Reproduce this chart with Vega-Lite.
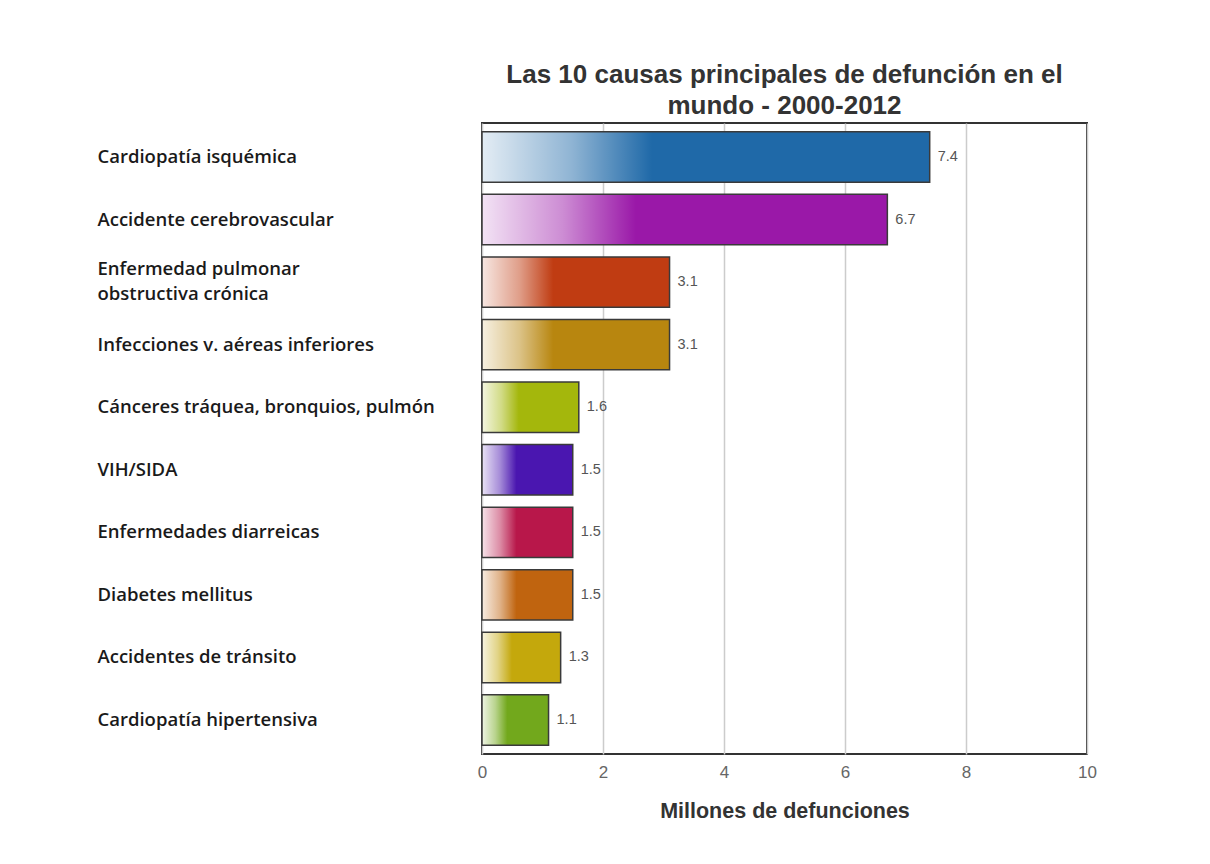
{
  "$schema": "https://vega.github.io/schema/vega-lite/v6.json",
  "width": 605,
  "height": 631,
  "autosize": {"type": "none"},
  "padding": {"left": 482, "top": 123, "right": 123, "bottom": 110},
  "background": "white",
  "title": {
    "text": ["Las 10 causas principales de defunción en el", "mundo - 2000-2012"],
    "font": "Liberation Sans",
    "fontSize": 26,
    "fontWeight": "bold",
    "color": "#333333",
    "lineHeight": 31,
    "anchor": "middle",
    "offset": 4
  },
  "data": {
    "values": [
      {"causa": "Cardiopatía isquémica", "valor": 7.4},
      {"causa": "Accidente cerebrovascular", "valor": 6.7},
      {"causa": "Enfermedad pulmonar obstructiva crónica", "valor": 3.1},
      {"causa": "Infecciones v. aéreas inferiores", "valor": 3.1},
      {"causa": "Cánceres tráquea, bronquios, pulmón", "valor": 1.6},
      {"causa": "VIH/SIDA", "valor": 1.5},
      {"causa": "Enfermedades diarreicas", "valor": 1.5},
      {"causa": "Diabetes mellitus", "valor": 1.5},
      {"causa": "Accidentes de tránsito", "valor": 1.3},
      {"causa": "Cardiopatía hipertensiva", "valor": 1.1}
    ]
  },
  "encoding": {
    "y": {
      "field": "causa",
      "type": "nominal",
      "sort": null,
      "scale": {"paddingInner": 0.195, "paddingOuter": 0.14},
      "axis": {
        "title": null,
        "ticks": false,
        "tickSize": 0,
        "domain": false,
        "labelAlign": "left",
        "labelPadding": 385,
        "labelLimit": 420,
        "labelFont": "Open Sans",
        "labelFontWeight": 600,
        "labelFontSize": 18.5,
        "labelColor": "#1a1a1a",
        "labelLineHeight": 25,
        "labelOffset": {"condition": {"test": "datum.value == 'Enfermedad pulmonar obstructiva crónica'", "value": -13}, "value": 0},
        "labelExpr": "datum.label == 'Enfermedad pulmonar obstructiva crónica' ? ['Enfermedad pulmonar', 'obstructiva crónica'] : datum.label"
      }
    },
    "x": {
      "field": "valor",
      "type": "quantitative",
      "scale": {"domain": [0, 10], "nice": false},
      "axis": {
        "values": [0, 2, 4, 6, 8, 10],
        "title": "Millones de defunciones",
        "titleFont": "Liberation Sans",
        "titleFontSize": 21.5,
        "titleFontWeight": "bold",
        "titleColor": "#333333",
        "titlePadding": 20,
        "ticks": false,
        "tickSize": 0,
        "domain": false,
        "labelFlush": false,
        "labelPadding": 10,
        "labelFont": "Liberation Sans",
        "labelFontSize": 17,
        "labelColor": "#666666",
        "grid": true,
        "gridColor": "#cccccc",
        "gridWidth": 1.5
      }
    }
  },
  "layer": [
    {
      "mark": {"type": "bar", "strokeWidth": 0},
      "encoding": {
        "color": {
          "field": "causa",
          "type": "nominal",
          "legend": null,
          "scale": {
            "domain": ["Cardiopatía isquémica", "Accidente cerebrovascular", "Enfermedad pulmonar obstructiva crónica", "Infecciones v. aéreas inferiores", "Cánceres tráquea, bronquios, pulmón", "VIH/SIDA", "Enfermedades diarreicas", "Diabetes mellitus", "Accidentes de tránsito", "Cardiopatía hipertensiva"],
            "range": ["#1f69a8", "#9a18a8", "#c03c12", "#b8860f", "#a4b70c", "#4a16b0", "#b8174a", "#c0640f", "#c4a80c", "#72a81c"]
          }
        }
      }
    },
    {
      "mark": {
        "type": "bar",
        "stroke": "#3a3a3a",
        "strokeWidth": 1.5,
        "fill": {
          "gradient": "linear",
          "x1": 0, "y1": 0, "x2": 1, "y2": 0,
          "stops": [
            {"offset": 0, "color": "rgba(255,255,255,0.88)"},
            {"offset": 0.2, "color": "rgba(255,255,255,0.5)"},
            {"offset": 0.38, "color": "rgba(255,255,255,0)"},
            {"offset": 1, "color": "rgba(255,255,255,0)"}
          ]
        }
      },
      "encoding": {}
    },
    {
      "mark": {"type": "text", "align": "left", "dx": 8, "font": "Liberation Sans", "fontSize": 14.5, "color": "#555555"},
      "encoding": {
        "text": {"field": "valor", "type": "quantitative", "format": ".1f"}
      }
    }
  ],
  "config": {
    "view": {"stroke": "#333333", "strokeWidth": 2, "fill": "white"}
  }
}
